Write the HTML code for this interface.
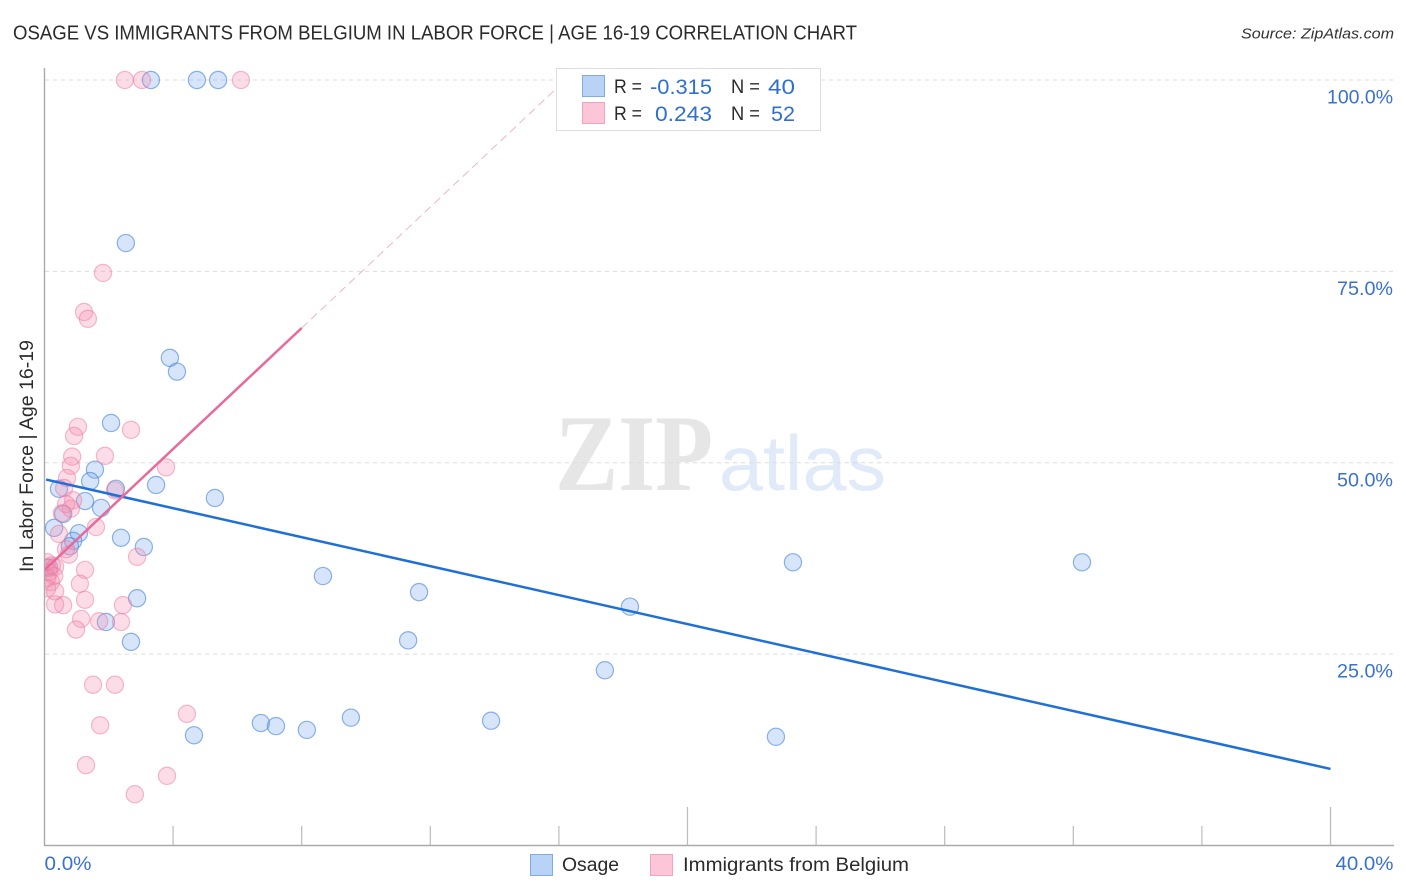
<!DOCTYPE html>
<html lang="en">
<head>
<meta charset="utf-8">
<title>Osage vs Immigrants from Belgium in Labor Force | Age 16-19 Correlation Chart</title>
<style>
html,body{margin:0;padding:0;background:#fff}
svg{display:block}
text{font-family:"Liberation Sans",sans-serif}
</style>
</head>
<body>
<svg id="chart" width="1406" height="892" viewBox="0 0 1406 892" xmlns="http://www.w3.org/2000/svg">
  <defs>
    <clipPath id="plot-clip"><rect x="45" y="0" width="1361" height="892"/></clipPath>
  </defs>
  <rect width="1406" height="892" fill="#ffffff"/>
  <text x="13" y="39.5" font-size="20" fill="#2b2b2b" textLength="844" lengthAdjust="spacingAndGlyphs">OSAGE VS IMMIGRANTS FROM BELGIUM IN LABOR FORCE | AGE 16-19 CORRELATION CHART</text>
  <text x="1241" y="38.5" font-size="15" font-style="italic" fill="#333333" textLength="153" lengthAdjust="spacingAndGlyphs">Source: ZipAtlas.com</text>
  <g>
    <text x="555" y="490" font-size="109" font-weight="bold" style="font-family:'Liberation Serif',serif" fill="#e6e6e6" textLength="158" lengthAdjust="spacingAndGlyphs">ZIP</text>
    <text x="719" y="490" font-size="78" fill="#e0eaf9" textLength="167" lengthAdjust="spacingAndGlyphs">atlas</text>
  </g>
  <g id="grid"></g>
  <g id="axes"></g>
  <g clip-path="url(#plot-clip)">
    <g id="points-a"></g>
    <g id="points-b"></g>
    <g id="trends"></g>
  </g>
  <text transform="translate(33,572) rotate(-90)" font-size="19" fill="#2b2b2b" textLength="232" lengthAdjust="spacingAndGlyphs">In Labor Force | Age 16-19</text>

  <g>
    <rect x="556.5" y="68.5" width="264" height="62" fill="#ffffff" stroke="#dddddd" stroke-width="1"/>
    <rect x="582.5" y="75.5" width="22" height="21" fill="#b9d3f7" stroke="#7fabe6"/>
    <rect x="582.5" y="102.5" width="22" height="21" fill="#fcc5d8" stroke="#f4a3bf"/>
    <text x="614" y="93" font-size="19" fill="#2b2b2b" textLength="28" lengthAdjust="spacingAndGlyphs">R =</text>
    <text x="650" y="94" font-size="21" fill="#2f6fd0" textLength="62" lengthAdjust="spacingAndGlyphs">-0.315</text>
    <text x="731" y="93" font-size="19" fill="#2b2b2b" textLength="29" lengthAdjust="spacingAndGlyphs">N =</text>
    <text x="768" y="94" font-size="21" fill="#2f6fd0" textLength="27" lengthAdjust="spacingAndGlyphs">40</text>
    <text x="614" y="120" font-size="19" fill="#2b2b2b" textLength="28" lengthAdjust="spacingAndGlyphs">R =</text>
    <text x="655" y="121" font-size="21" fill="#2f6fd0" textLength="57" lengthAdjust="spacingAndGlyphs">0.243</text>
    <text x="731" y="120" font-size="19" fill="#2b2b2b" textLength="29" lengthAdjust="spacingAndGlyphs">N =</text>
    <text x="771" y="121" font-size="21" fill="#2f6fd0" textLength="24" lengthAdjust="spacingAndGlyphs">52</text>
  </g>

  <g>
    <rect x="530.5" y="854.5" width="22" height="21" fill="#b9d3f7" stroke="#7fabe6"/>
    <text x="562" y="871" font-size="19" fill="#2b2b2b" textLength="57" lengthAdjust="spacingAndGlyphs">Osage</text>
    <rect x="650.5" y="854.5" width="22" height="21" fill="#fcc5d8" stroke="#f4a3bf"/>
    <text x="683" y="871" font-size="19" fill="#2b2b2b" textLength="226" lengthAdjust="spacingAndGlyphs">Immigrants from Belgium</text>
  </g>
</svg>
<script>
// Chart data (x = share in %, y = in labor force %)
const osageX = [3.31,4.74,5.40,2.53,3.90,4.12,2.07,1.57,1.42,0.45,2.22,3.47,5.30,1.26,1.76,0.58,0.30,1.07,2.38,0.89,0.79,3.09,8.66,23.28,32.27,11.65,2.88,18.21,1.91,2.69,11.31,17.43,6.73,7.20,8.16,9.53,13.89,4.65,22.75,0.14];
const osageY = [100,100,100,78.7,63.7,61.9,55.2,49.1,47.6,46.6,46.6,47.1,45.4,45.0,44.1,43.3,41.5,40.8,40.2,39.8,39.1,39.0,35.2,37.0,37.0,33.1,32.3,31.2,29.2,26.6,26.8,22.9,16.0,15.6,15.1,16.7,16.3,14.4,14.2,36.3];
const belgiumX = [2.50,3.03,6.11,1.82,1.23,1.35,1.04,0.92,2.69,1.88,0.86,0.82,3.78,0.70,0.61,2.19,0.89,0.67,0.82,0.54,1.60,0.45,2.88,0.67,0.76,1.26,1.10,1.26,2.44,0.58,0.33,1.14,1.70,2.38,0.98,1.51,2.19,1.73,4.43,1.29,3.81,2.81,0.08,0.23,0.05,0.33,0.14,0.30,0.08,0.20,0.08,0.33];
const belgiumY = [100,100,100,74.8,69.7,68.8,54.7,53.5,54.3,50.9,50.8,49.6,49.4,48.0,46.7,46.4,45.1,44.6,44.0,43.4,41.6,40.7,37.7,38.7,38.0,36.0,34.2,32.1,31.4,31.4,31.5,29.6,29.3,29.2,28.2,21.0,21.0,15.7,17.2,10.5,9.1,6.7,37.0,36.6,36.3,36.4,35.7,35.2,34.9,34.4,33.6,33.2];
const osageTrendX = [0.05,40];
const osageTrendY = [47.8,10.0];
const belgiumTrendX = [0,8.0];
const belgiumTrendY = [36.0,67.6];
const belgiumDashX = [8.0,16.0];
const belgiumDashY = [67.6,99.2];
const yTickValues = [100,75,50,25];
const yTickLabels = ['100.0%','75.0%','50.0%','25.0%'];
const xTickValues = [4,8,12,16,20,24,28,32,36,40];
const xMajorTicks = [20,40];
const xEndValues = [0,40];
const xEndLabels = ['0.0%','40.0%'];

const NS = 'http://www.w3.org/2000/svg';
function xScale(v){ return 44.5 + v * 32.15; }
function yScale(v){ return 845.5 - v * 7.655; }
function make(tag, attrs, parent){
  const el = document.createElementNS(NS, tag);
  for (const k in attrs) el.setAttribute(k, attrs[k]);
  parent.appendChild(el);
  return el;
}

const grid = document.getElementById('grid');
const axes = document.getElementById('axes');
const gA = document.getElementById('points-a');
const gB = document.getElementById('points-b');
const trends = document.getElementById('trends');

yTickValues.forEach(function(v, i){
  const line = make('line', {x1:45, x2:1393, y1:yScale(v), y2:yScale(v), stroke:'#dcdcdc', 'stroke-width':1, 'stroke-dasharray':'4 4'}, grid);
  
  
  const t = make('text', {x:1393, y:yScale(v)+23.5, 'font-size':19.5, fill:'#3a70cf', 'text-anchor':'end', textLength: i === 0 ? 66 : 56, lengthAdjust:'spacingAndGlyphs'}, axes);
  t.textContent = yTickLabels[i];
  
  
});

const yAxis = make('line', {x1:44.5, x2:44.5, y1:68, y2:846, stroke:'#aaaaaa', 'stroke-width':1.4}, axes);


const xAxis = make('line', {x1:44, x2:1394, y1:845.5, y2:845.5, stroke:'#aaaaaa', 'stroke-width':1.4}, axes);



xTickValues.forEach(function(v){
  const top = xMajorTicks.indexOf(v) >= 0 ? 807 : 826;
  const tick = make('line', {x1:xScale(v), x2:xScale(v), y1:top, y2:845, stroke:'#bbbbbb', 'stroke-width':1.2}, axes);
  
  
});

xEndValues.forEach(function(v, i){
  const anchor = i === 0 ? 'start' : 'end';
  const px = i === 0 ? xScale(v) : 1393.5;
  const t = make('text', {x:px, y:870, 'font-size':19.5, fill:'#3a70cf', 'text-anchor':anchor, textLength: i === 0 ? 47 : 58, lengthAdjust:'spacingAndGlyphs'}, axes);
  t.textContent = xEndLabels[i];
  
  
});

belgiumX.forEach(function(v, i){
  const c = make('circle', {cx:xScale(v), cy:yScale(belgiumY[i]), r:8.6, fill:'rgba(244,143,177,0.3)', stroke:'rgba(236,120,160,0.5)', 'stroke-width':1.2}, gB);
  
  
});
osageX.forEach(function(v, i){
  const c = make('circle', {cx:xScale(v), cy:yScale(osageY[i]), r:8.6, fill:'rgba(120,170,235,0.3)', stroke:'rgba(70,130,215,0.6)', 'stroke-width':1.2}, gA);
  
  
});

const dash = make('line', {x1:xScale(belgiumDashX[0]), y1:yScale(belgiumDashY[0]), x2:xScale(belgiumDashX[1]), y2:yScale(belgiumDashY[1]), stroke:'#eeb4ca', 'stroke-width':1, 'stroke-dasharray':'8 5'}, trends);


const blueLine = make('line', {x1:xScale(osageTrendX[0]), y1:yScale(osageTrendY[0]), x2:xScale(osageTrendX[1]), y2:yScale(osageTrendY[1]), stroke:'#1f6fd8', 'stroke-width':2.5}, trends);


const pinkLine = make('line', {x1:xScale(belgiumTrendX[0]), y1:yScale(belgiumTrendY[0]), x2:xScale(belgiumTrendX[1]), y2:yScale(belgiumTrendY[1]), stroke:'#e8699a', 'stroke-width':2.5}, trends);


</script>
</body>
</html>
